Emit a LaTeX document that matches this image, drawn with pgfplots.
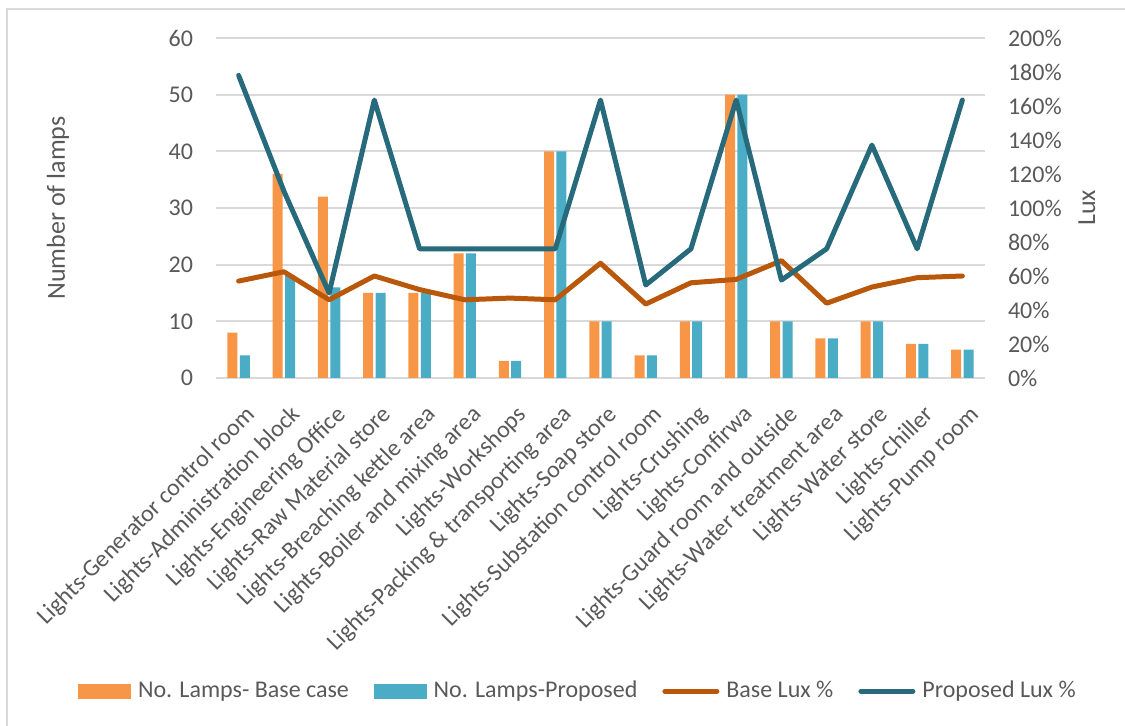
\documentclass[border=0pt]{standalone}
\usepackage{pgfplots}
\pgfplotsset{compat=1.18}
\usepackage{fontspec}
\setmainfont{Carlito}
\definecolor{barO}{HTML}{F79646}
\definecolor{barB}{HTML}{4BACC6}
\definecolor{lineO}{HTML}{B9580B}
\definecolor{lineB}{HTML}{276A7C}
\definecolor{gridc}{HTML}{D9D9D9}
\definecolor{txt}{HTML}{595959}
\begin{document}
\begin{tikzpicture}
\useasboundingbox (0,0) rectangle (562.5pt,363pt);
\draw[gridc, line width=1pt] (3.5pt,0) -- (3.5pt,358.5pt) -- (562.5pt,358.5pt);
\pgfplotsset{
  base/.style={
    scale only axis, width=384.5pt, height=170pt,
    at={(108pt,174pt)}, anchor=south west,
    xmin=-0.5, xmax=16.5,
    major tick length=0pt,
    tick label style={font=\fontsize{12}{14}\selectfont, text=txt},
    label style={font=\fontsize{13}{15}\selectfont, text=txt},
    /pgf/number format/assume math mode=true,
  }
}
\begin{axis}[base,
  ymin=0, ymax=60, ytick={0,10,...,60},
  axis x line*=bottom, axis y line*=left,
  x axis line style={draw=gridc, line width=1pt, -},
  y axis line style={draw=none},
  ymajorgrids, grid style={gridc, line width=1pt},
  xtick={0,...,16},
  xticklabels={Lights-Generator control room, Lights-Administration block, Lights-Engineering Office, Lights-Raw Material store, Lights-Breaching kettle area, Lights-Boiler and mixing area, Lights-Workshops, Lights-Packing \& transporting area, Lights-Soap store, Lights-Substation control room, Lights-Crushing, Lights-Confirwa, Lights-Guard room and outside, Lights-Water treatment area, Lights-Water store, Lights-Chiller, Lights-Pump room},
  xticklabel style={rotate=45, anchor=north east, inner sep=1pt, xshift=-6pt, yshift=-10pt, font=\fontsize{12}{14}\selectfont},
  yticklabel style={xshift=-8pt},
  ylabel={Number of lamps},
  ylabel style={at={(axis description cs:-0.2055,0.5)}, anchor=center},
  ybar=1.2pt, bar width=5pt,
]
\addplot[fill=barO, draw=none] coordinates {(0,8) (1,36) (2,32) (3,15) (4,15) (5,22) (6,3) (7,40) (8,10) (9,4) (10,10) (11,50) (12,10) (13,7) (14,10) (15,6) (16,5)};
\addplot[fill=barB, draw=none] coordinates {(0,4) (1,18) (2,16) (3,15) (4,15) (5,22) (6,3) (7,40) (8,10) (9,4) (10,10) (11,50) (12,10) (13,7) (14,10) (15,6) (16,5)};
\end{axis}
\begin{axis}[base,
  ymin=0, ymax=200, ytick={0,20,...,200},
  yticklabel={\pgfmathprintnumber{\tick}\%},
  axis x line=none, axis y line*=right,
  y axis line style={draw=none},
  yticklabel style={xshift=8pt, anchor=west},
  ylabel={Lux},
  ylabel style={at={(axis description cs:1.1326,0.5)}, anchor=center},
  legend columns=4,
  legend style={draw=none, fill=none, at={(axis description cs:0.472,-0.921)}, anchor=center,
    font=\fontsize{12}{14}\selectfont, text=txt,
    /tikz/every even column/.append style={column sep=10.5pt},
    /tikz/every odd column/.append style={column sep=1.5pt}},
]
\addlegendimage{legend image code/.code={\fill[barO] (0pt,-3.5pt) rectangle (26pt,3.5pt);}}
\addlegendentry{No. Lamps- Base case}
\addlegendimage{legend image code/.code={\fill[barB] (0pt,-3.5pt) rectangle (26pt,3.5pt);}}
\addlegendentry{No. Lamps-Proposed}
\addplot[lineO, line width=2.5pt, line join=round, line cap=round,
  legend image code/.code={\draw[lineO, line width=2.5pt, line cap=round] (1pt,0) -- (27pt,0);}]
  coordinates {(0,57) (1,62.5) (2,46) (3,60) (4,52) (5,46) (6,47) (7,46) (8,67.5) (9,43.5) (10,56) (11,58) (12,69) (13,44) (14,53.5) (15,59) (16,60)};
\addlegendentry{Base Lux \%}
\addplot[lineB, line width=2.5pt, line join=round, line cap=round,
  legend image code/.code={\draw[lineB, line width=2.5pt, line cap=round] (1pt,0) -- (27pt,0);}]
  coordinates {(0,178) (1,110) (2,50) (3,163.5) (4,76) (5,76) (6,76) (7,76) (8,163.5) (9,54.7) (10,76) (11,163.5) (12,57.6) (13,76) (14,137) (15,76) (16,163.5)};
\addlegendentry{Proposed Lux \%}
\end{axis}
\end{tikzpicture}
\end{document}
